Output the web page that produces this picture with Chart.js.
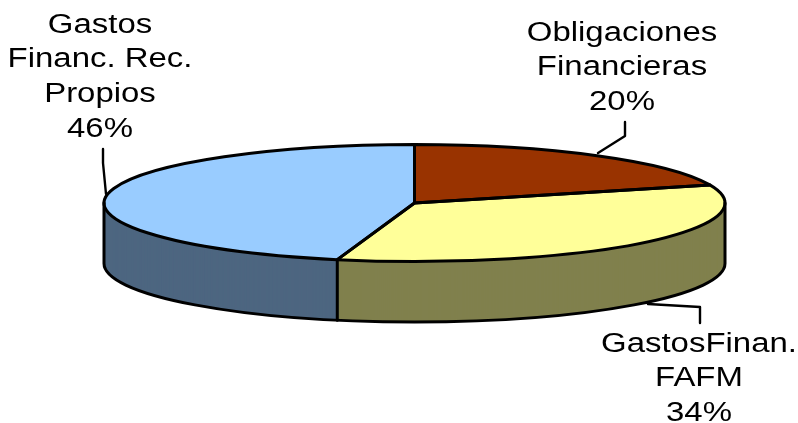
<!DOCTYPE html>
<html><head><meta charset="utf-8">
<style>html,body{margin:0;padding:0;background:#fff}canvas{display:block}</style>
<script src="https://cdn.jsdelivr.net/npm/chart.js@4"></script>
</head><body><canvas id="c" width="798" height="423"></canvas>
<script>
const categories = ["Obligaciones Financieras", "GastosFinan. FAFM", "Gastos Financ. Rec. Propios"];
const labelLines = [["Obligaciones","Financieras"],["GastosFinan.","FAFM"],["Gastos","Financ. Rec.","Propios"]];
const values = [20, 34, 46];
const topColors = ["#993300","#FFFF99","#99CCFF"];
const sideColors = ["#4D1A00","#80804D","#4D6680"];

const view = {cx:414.5, cy:203, a:310.5, b:58.5, depth:60.5};
const labelPos = [{x:622,y:40.5},{x:699,y:351.5},{x:100,y:32.5}];
const leaders = [[[625,122],[625,136],[598,153]],[[700,323],[700,307],[648,304]],[[103,149],[103,163],[106,194]]];
const font = {size:27, gap:34.7, stretch:1.22};

const pie3d = {
  id:'pie3d',
  beforeDatasetDraw(chart){
    const ctx = chart.ctx, arcs = chart.getDatasetMeta(0).data;
    const paint = (arc,color,dy)=>{
      const saved = arc.options;
      arc.options = Object.assign({}, saved, {backgroundColor:color, borderWidth:0});
      ctx.save();
      ctx.translate(view.cx, view.cy+dy);
      ctx.scale(view.a/arc.outerRadius, view.b/arc.outerRadius);
      ctx.translate(-arc.x,-arc.y);
      arc.draw(ctx);
      ctx.restore();
      arc.options = saved;
    };
    for(let d=Math.ceil(view.depth);d>0;d--) arcs.forEach((arc,i)=>paint(arc,sideColors[i],Math.min(d,view.depth)));
    arcs.forEach((arc,i)=>paint(arc,topColors[i],0));

    ctx.save();
    ctx.strokeStyle='#000'; ctx.lineWidth=3; ctx.lineJoin='round'; ctx.lineCap='round';
    ctx.beginPath();
    ctx.moveTo(view.cx-view.a,view.cy);
    ctx.lineTo(view.cx-view.a,view.cy+view.depth);
    ctx.ellipse(view.cx,view.cy+view.depth,view.a,view.b,0,Math.PI,0,true);
    ctx.lineTo(view.cx+view.a,view.cy);
    ctx.stroke();
    arcs.forEach(arc=>{
      ctx.beginPath();
      ctx.moveTo(view.cx,view.cy);
      ctx.ellipse(view.cx,view.cy,view.a,view.b,0,arc.startAngle,arc.endAngle);
      ctx.closePath();
      ctx.stroke();
      if(Math.sin(arc.startAngle)>0){
        const x=view.cx+view.a*Math.cos(arc.startAngle), y=view.cy+view.b*Math.sin(arc.startAngle);
        ctx.beginPath();ctx.moveTo(x,y);ctx.lineTo(x,y+view.depth);ctx.stroke();
      }
    });
    ctx.lineWidth=2.4;
    leaders.forEach(l=>{
      ctx.beginPath();
      l.forEach((p,i)=>i?ctx.lineTo(p[0],p[1]):ctx.moveTo(p[0],p[1]));
      ctx.stroke();
    });
    ctx.fillStyle='#000'; ctx.textAlign='center'; ctx.textBaseline='alphabetic';
    ctx.font=font.size+'px "Liberation Sans", Arial, sans-serif';
    labelLines.forEach((lines,i)=>{
      const all=lines.concat([values[i]+'%']);
      all.forEach((t,j)=>{
        ctx.save();
        ctx.translate(labelPos[i].x,labelPos[i].y+j*font.gap);
        ctx.scale(font.stretch,1);
        ctx.fillText(t,0,0);
        ctx.restore();
      });
    });
    ctx.restore();
    return false;
  }
};

new Chart(document.getElementById('c').getContext('2d'),{
  type:'pie',
  data:{labels:categories,datasets:[{data:values,backgroundColor:topColors,borderWidth:0}]},
  options:{responsive:false,animation:false,
    plugins:{legend:{display:false},tooltip:{enabled:false}},
    layout:{padding:0}},
  plugins:[pie3d]
});
</script></body></html>
